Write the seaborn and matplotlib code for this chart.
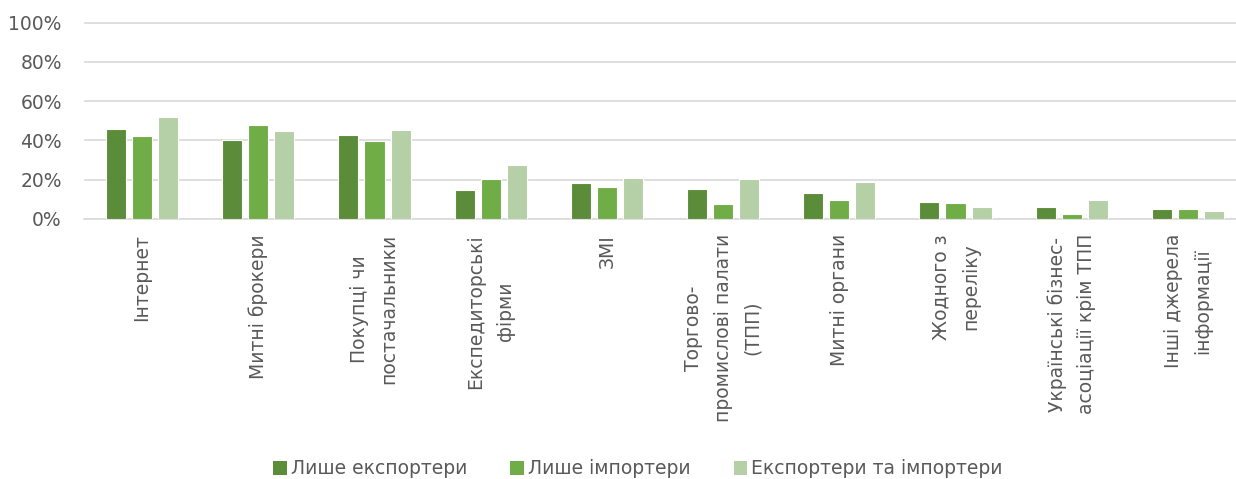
import matplotlib
matplotlib.use("Agg")
import matplotlib.pyplot as plt
from matplotlib.patches import Patch
from matplotlib.ticker import FuncFormatter
import pandas as pd
import seaborn as sns

# Sources of information, share of respondents (%)
categories = [
    "Інтернет",
    "Митні брокери",
    "Покупці чи\nпостачальники",
    "Експедиторські\nфірми",
    "ЗМІ",
    "Торгово-\nпромислові палати\n(ТПП)",
    "Митні органи",
    "Жодного з\nпереліку",
    "Українські бізнес-\nасоціації крім ТПП",
    "Інші джерела\nінформації",
]
series_names = ["Лише експортери", "Лише імпортери", "Експортери та імпортери"]
exporters_only = [46, 40, 42.5, 14.5, 18.3, 15.2, 13.2, 8.7, 5.8, 5.0]
importers_only = [42, 48, 39.5, 20.2, 16.4, 7.5, 9.4, 8.0, 2.2, 5.0]
both = [51.7, 44.6, 45.3, 27.2, 20.9, 20.2, 18.5, 6.0, 9.4, 3.8]
colors = ["#5B8C39", "#70AD47", "#B5CFA7"]
y_ticks = [0, 20, 40, 60, 80, 100]

df = pd.DataFrame({
    "category": categories * 3,
    "group": [series_names[0]] * 10 + [series_names[1]] * 10 + [series_names[2]] * 10,
    "value": exporters_only + importers_only + both,
})

sns.set_theme(style="white")
plt.rcParams["font.family"] = ["DejaVu Sans"]
text_color = "#595959"
grid_color = "#D9D9D9"

W, H = 1236, 479
fig = plt.figure(figsize=(W / 100, H / 100), dpi=100)
# axes in pixel units: left 84, zero line at y=218.7, 100% at y=22.7
y0_px, y100_px = 218.7, 22.7
px_per_unit = (y0_px - y100_px) / 100
ymax = 101
ax = fig.add_axes([84 / W, (H - y0_px) / H, 1162 / W, ymax * px_per_unit / H])

sns.barplot(
    data=df, x="category", y="value", hue="group",
    order=categories, hue_order=series_names, palette=colors,
    saturation=1, width=0.672, gap=0.23, edgecolor="white", linewidth=0.8,
    legend=False, ax=ax, zorder=3,
)

ax.set_xlim(-0.5, len(categories) - 0.5)
ax.set_ylim(0, ymax)
ax.set_yticks(y_ticks)
ax.yaxis.set_major_formatter(FuncFormatter(lambda v, _: f"{v:.0f}%"))
ax.grid(axis="y", color=grid_color, linewidth=1.2, zorder=0)
ax.set_axisbelow(True)
for side in ["top", "right", "left"]:
    ax.spines[side].set_visible(False)
ax.spines["bottom"].set_color(grid_color)
ax.spines["bottom"].set_linewidth(1.2)
ax.set_xlabel("")
ax.set_ylabel("")

ax.tick_params(axis="y", length=0, pad=16, labelsize=13.5, labelcolor=text_color)
ax.tick_params(axis="x", length=0, pad=11, labelsize=13.5, labelcolor=text_color)
for lbl in ax.get_xticklabels():
    lbl.set_rotation(90)
    lbl.set_ha("center")
    lbl.set_va("top")
    lbl.set_multialignment("center")
    lbl.set_linespacing(1.7)

handles = [Patch(facecolor=c, edgecolor="none") for c in colors]
fig.legend(
    handles, series_names, loc="center", bbox_to_anchor=(638 / W, 1 - 469 / H),
    ncol=3, frameon=False, fontsize=13.5, labelcolor=text_color,
    handlelength=0.72, handleheight=0.72, handletextpad=0.22, columnspacing=2.3,
)

fig.savefig("out.png", dpi=100)
